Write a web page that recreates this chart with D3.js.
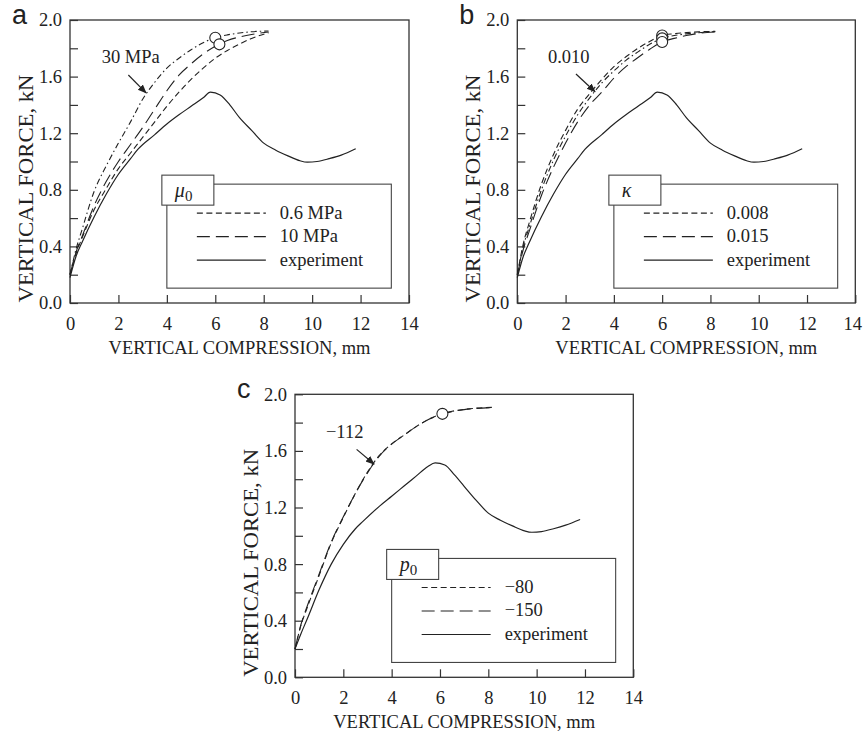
<!DOCTYPE html>
<html>
<head>
<meta charset="utf-8">
<script src="https://cdn.jsdelivr.net/npm/d3@7"></script>
<style>
  body { margin: 0; background: #fff; }
  svg text { font-family: "Liberation Serif", "Times New Roman", serif; fill: #222; }
  svg text.letter { font-family: "Liberation Sans", Arial, sans-serif; }
</style>
</head>
<body>
<svg id="chart" width="863" height="737"></svg>
<script>
// axis ticks
const xTicks = [0, 2, 4, 6, 8, 10, 12, 14]
const yTicks = [0, 0.2, 0.4, 0.6, 0.8, 1.0, 1.2, 1.4, 1.6, 1.8, 2.0]
const yLabels = [0, 0.4, 0.8, 1.2, 1.6, 2.0]

// simulated curves share the same x samples (mm)
const simX = [0, 0.25, 0.5, 1, 1.5, 2, 2.5, 3, 3.5, 4, 4.5, 5, 5.5, 6, 6.5, 7, 7.5, 8.2]

// panel a : mu0
const mu06 = [0.2, 0.35, 0.46, 0.66, 0.81, 0.95, 1.06, 1.17, 1.28, 1.39, 1.49, 1.58, 1.66, 1.73, 1.785, 1.83, 1.87, 1.91]
const mu10 = [0.2, 0.36, 0.47, 0.69, 0.86, 1.0, 1.12, 1.24, 1.37, 1.5, 1.61, 1.69, 1.76, 1.815, 1.855, 1.88, 1.898, 1.915]
const mu30 = [0.2, 0.38, 0.52, 0.79, 0.97, 1.13, 1.28, 1.44, 1.56, 1.66, 1.73, 1.79, 1.84, 1.875, 1.895, 1.908, 1.917, 1.922]

// panel b : kappa
const k008 = [0.2, 0.42, 0.57, 0.84, 1.05, 1.22, 1.37, 1.48, 1.58, 1.67, 1.74, 1.8, 1.85, 1.89, 1.903, 1.911, 1.916, 1.92]
const k010 = [0.2, 0.4, 0.54, 0.8, 1.01, 1.18, 1.33, 1.45, 1.555, 1.64, 1.715, 1.775, 1.83, 1.87, 1.89, 1.902, 1.91, 1.918]
const k015 = [0.2, 0.38, 0.51, 0.76, 0.96, 1.13, 1.28, 1.4, 1.49, 1.59, 1.67, 1.735, 1.795, 1.845, 1.87, 1.89, 1.905, 1.915]

// panel c : p0
const p80 = [0.2, 0.37, 0.49, 0.72, 0.95, 1.13, 1.3, 1.45, 1.57, 1.65, 1.71, 1.77, 1.82, 1.858, 1.88, 1.893, 1.902, 1.908]
const p150 = [0.2, 0.375, 0.5, 0.73, 0.955, 1.135, 1.3, 1.445, 1.565, 1.648, 1.71, 1.77, 1.82, 1.855, 1.878, 1.892, 1.9, 1.907]

// experiment
const expX = [0, 0.25, 0.5, 1, 1.5, 2, 2.5, 2.8, 3.5, 4, 4.5, 5, 5.5, 5.8, 6.2, 6.6, 7, 7.5, 8, 8.5, 9, 9.5, 9.8, 10.2, 10.7, 11.2, 11.8]
const expA = [0.18, 0.33, 0.43, 0.61, 0.77, 0.91, 1.02, 1.085, 1.19, 1.265, 1.33, 1.39, 1.45, 1.49, 1.47, 1.4, 1.31, 1.22, 1.13, 1.08, 1.04, 1.005, 0.995, 1.0, 1.02, 1.045, 1.09]
const expC = [0.2, 0.31, 0.41, 0.62, 0.8, 0.94, 1.05, 1.1, 1.21, 1.28, 1.35, 1.42, 1.49, 1.515, 1.5, 1.43, 1.35, 1.25, 1.16, 1.11, 1.07, 1.035, 1.025, 1.03, 1.05, 1.075, 1.115]

// open circle markers
const circlesA = [[6.0, 1.875], [6.17, 1.828]]
const circlesB = [[6.0, 1.89], [6.0, 1.87], [6.0, 1.845]]
const circlesC = [[6.1, 1.862]]

const SHORT = "6,3.5", LONG = "13,6", DASHDOT = "6,3,1.5,3"

const svg = d3.select("#chart")

const panels = [
  {
    letter: "a", left: 70, top: 20, w: 339, h: 283,
    series: [
      {y: mu06, dash: SHORT}, {y: mu10, dash: LONG}, {y: mu30, dash: DASHDOT}
    ],
    exp: expA, circles: circlesA,
    note: {text: "30 MPa", tx: 1.31, ty: 1.694, from: [2.41, 1.611], to: [3.14, 1.485]},
    legend: {sym: "μ", sub: "0", items: [["0.6 MPa", SHORT], ["10 MPa", LONG], ["experiment", null]]}
  },
  {
    letter: "b", left: 517.3, top: 20, w: 338, h: 283,
    series: [
      {y: k008, dash: SHORT}, {y: k010, dash: DASHDOT}, {y: k015, dash: LONG}
    ],
    exp: expA, circles: circlesB,
    note: {text: "0.010", tx: 1.27, ty: 1.696, from: [2.43, 1.618], to: [3.22, 1.493]},
    legend: {sym: "κ", sub: "", items: [["0.008", SHORT], ["0.015", LONG], ["experiment", null]]}
  },
  {
    letter: "c", left: 295, top: 394.3, w: 338.3, h: 283,
    series: [
      {y: p80, dash: SHORT}, {y: p150, dash: LONG}
    ],
    exp: expC, circles: circlesC,
    note: {text: "−112", tx: 1.28, ty: 1.693, from: [2.55, 1.611], to: [3.27, 1.507]},
    legend: {sym: "p", sub: "0", items: [["−80", SHORT], ["−150", LONG], ["experiment", null]]}
  }
]

const defs = svg.append("defs")
defs.append("marker")
  .attr("id", "arrow")
  .attr("viewBox", "0 0 10 10")
  .attr("refX", 9).attr("refY", 5)
  .attr("markerWidth", 9).attr("markerHeight", 9)
  .attr("markerUnits", "userSpaceOnUse")
  .attr("orient", "auto")
  .append("path")
  .attr("d", "M0,1 L10,5 L0,9 Z")
  .attr("fill", "#222")

panels.forEach(drawPanel)

function drawPanel(p) {
  let g = svg.append("g").attr("transform", `translate(${p.left},${p.top})`)

  let x = d3.scaleLinear().domain([0, 14]).range([0, p.w])
  let y = d3.scaleLinear().domain([0, 2]).range([p.h, 0])

  // frame
  g.append("rect")
    .attr("width", p.w).attr("height", p.h)
    .attr("fill", "none").attr("stroke", "#333").attr("stroke-width", 1.3)

  // x axis, ticks pointing inward
  let xAxis = g.append("g").attr("transform", `translate(0,${p.h})`)
    .call(d3.axisBottom(x).tickValues(xTicks).tickSizeInner(-8).tickSizeOuter(0).tickPadding(14).tickFormat(d3.format("d")))
  xAxis.select(".domain").remove()
  xAxis.selectAll("line").attr("stroke", "#333").attr("stroke-width", 1.2)
  xAxis.selectAll("text").attr("font-size", 18.5).attr("fill", "#222")
  // keep the last label inside the window
  if (p.left + p.w > 850) xAxis.selectAll("text").filter(d => d == 14).attr("dx", -3)

  let yAxis = g.append("g")
    .call(d3.axisLeft(y).tickValues(yTicks).tickSizeInner(-8).tickSizeOuter(0).tickPadding(8)
      .tickFormat(d => yLabels.some(v => Math.abs(v - d) < 1e-9) ? d3.format(".1f")(d) : ""))
  yAxis.select(".domain").remove()
  yAxis.selectAll("line").attr("stroke", "#333").attr("stroke-width", 1.2)
  yAxis.selectAll("text").attr("font-size", 18.5).attr("fill", "#222")

  // axis titles
  g.append("text")
    .attr("x", p.w / 2).attr("y", p.h + 51)
    .attr("text-anchor", "middle").attr("font-size", 18.5)
    .text("VERTICAL COMPRESSION, mm")

  g.append("text")
    .attr("transform", `translate(-37,${p.h / 2 + 27}) rotate(-90)`)
    .attr("text-anchor", "middle").attr("font-size", 20.5)
    .attr("textLength", 228).attr("lengthAdjust", "spacingAndGlyphs")
    .text("VERTICAL FORCE, kN")

  // panel letter
  g.append("text")
    .attr("class", "letter")
    .attr("x", -58).attr("y", 4)
    .attr("font-size", 27)
    .text(p.letter)

  // legend
  let lg = g.append("g")
  let bx0 = x(4), bx1 = x(13.27), by0 = y(0.84), by1 = y(0.105)
  lg.append("rect")
    .attr("x", bx0).attr("y", by0).attr("width", bx1 - bx0).attr("height", by1 - by0)
    .attr("fill", "white").attr("stroke", "#444").attr("stroke-width", 1.1)
  lg.append("rect")
    .attr("x", bx0 - 5).attr("y", by0 - 9).attr("width", 52).attr("height", 30)
    .attr("fill", "white").attr("stroke", "#444").attr("stroke-width", 1.1)
  let sym = lg.append("text")
    .attr("x", bx0 + 8).attr("y", by0 + 13)
    .attr("font-size", 20).attr("font-style", "italic")
  sym.append("tspan").text(p.legend.sym)
  if (p.legend.sub) {
    sym.append("tspan").attr("dy", 4).attr("font-size", 15).attr("font-style", "normal").text(p.legend.sub)
  }
  p.legend.items.forEach((it, i) => {
    let ly = by0 + 29 + i * 23.5
    lg.append("line")
      .attr("x1", bx0 + 30).attr("x2", bx0 + 99)
      .attr("y1", ly).attr("y2", ly)
      .attr("stroke", "#222").attr("stroke-width", 1.1)
      .attr("stroke-dasharray", it[1])
    lg.append("text")
      .attr("x", bx0 + 113).attr("y", ly + 5.5)
      .attr("font-size", 18.5)
      .text(it[0])
  })

  let line = d3.line()
    .x(d => x(d[0])).y(d => y(d[1]))
    .curve(d3.curveMonotoneX)

  // experiment
  g.append("path")
    .datum(expX.map((v, i) => [v, p.exp[i]]))
    .attr("d", line)
    .attr("fill", "none").attr("stroke", "#222").attr("stroke-width", 1.2)

  // simulations
  p.series.forEach(s => {
    g.append("path")
      .datum(simX.map((v, i) => [v, s.y[i]]))
      .attr("d", line)
      .attr("fill", "none").attr("stroke", "#222").attr("stroke-width", 1.1)
      .attr("stroke-dasharray", s.dash)
  })

  g.selectAll("circle.mk")
    .data(p.circles)
    .enter().append("circle")
    .attr("class", "mk")
    .attr("cx", d => x(d[0])).attr("cy", d => y(d[1]))
    .attr("r", 5.5)
    .attr("fill", "white").attr("stroke", "#222").attr("stroke-width", 1.1)

  // annotation with arrow
  g.append("text")
    .attr("x", x(p.note.tx)).attr("y", y(p.note.ty))
    .attr("font-size", 18.5)
    .text(p.note.text)
  g.append("line")
    .attr("x1", x(p.note.from[0])).attr("y1", y(p.note.from[1]))
    .attr("x2", x(p.note.to[0])).attr("y2", y(p.note.to[1]))
    .attr("stroke", "#222").attr("stroke-width", 1.2)
    .attr("marker-end", "url(#arrow)")
}
</script>
</body>
</html>
